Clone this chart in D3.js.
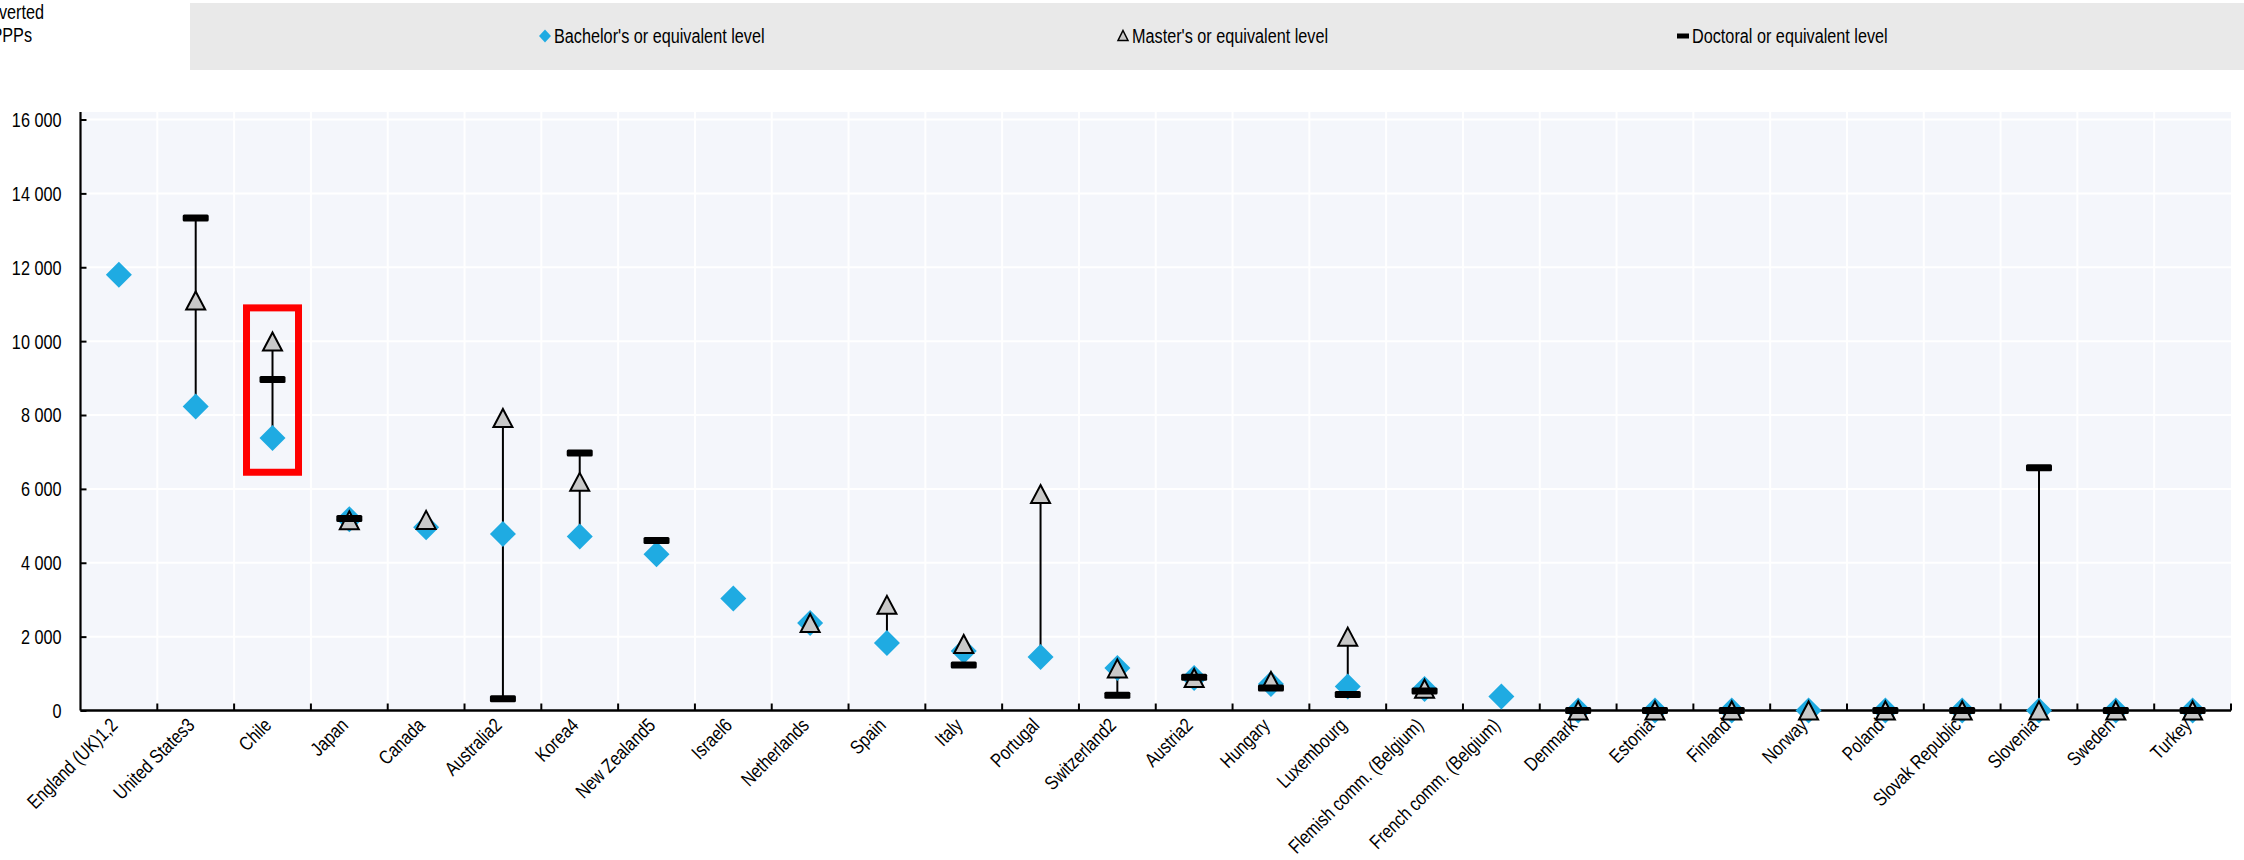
<!DOCTYPE html>
<html>
<head>
<meta charset="utf-8">
<script src="https://cdn.jsdelivr.net/npm/d3@7"></script>
<style>
  html, body { margin: 0; padding: 0; background: #fff; }
  svg { display: block; }
  text { font-family: 'Liberation Sans', Arial, sans-serif; }
</style>
</head>
<body>
<div id="chart"></div>
<script>
// data
const countries = [
  'England (UK)1,2', 'United States3', 'Chile', 'Japan', 'Canada', 'Australia2',
  'Korea4', 'New Zealand5', 'Israel6', 'Netherlands', 'Spain', 'Italy', 'Portugal',
  'Switzerland2', 'Austria2', 'Hungary', 'Luxembourg', 'Flemish comm. (Belgium)',
  'French comm. (Belgium)', 'Denmark', 'Estonia', 'Finland', 'Norway', 'Poland',
  'Slovak Republic', 'Slovenia', 'Sweden', 'Turkey'
]
const bachelor = [
  11800, 8230, 7380, 5180, 4960, 4780, 4710, 4230, 3030, 2370, 1830, 1610, 1450,
  1150, 880, 720, 650, 580, 380, 0, 0, 0, 0, 0, 0, 0, 0, 0
]
const master = [
  null, 11100, 9990, 5150, 5160, 7920, 6190, null, null, 2370, 2860, 1800, 5860,
  1140, 880, 800, 2000, 590, null, 0, 0, 0, 0, 0, 0, 0, 0, 0
]
const doctoral = [
  null, 13330, 8960, 5200, null, 320, 6970, 4600, null, null, null, 1230, null,
  410, 900, 610, 430, 530, null, 0, 0, 0, null, 0, 0, 6570, 0, 0
]
const yTicks = [0, 2000, 4000, 6000, 8000, 10000, 12000, 14000, 16000]
const legendLabels = [
  "Bachelor's or equivalent level",
  "Master's or equivalent level",
  'Doctoral or equivalent level'
]
const highlighted = 'Chile'

// format
const fmt = d3.formatLocale({ decimal: '.', thousands: ' ', grouping: [3], currency: ['', ''] }).format(',')

// size
const W = 2244
const H = 860
const plotLeft = 80.5
const plotRight = 2231
const plotTop = 112
const plotBottom = 710.5
const fs = '19.8px'
const narrow = 0.82 // the source uses a condensed face

const blue = '#1fabe2'
const grey = '#c8c8c8'

// scale
const x = d3.scaleBand().domain(countries).range([plotLeft, plotRight]).padding(0)
const y = d3.scaleLinear().domain([0, 16000]).range([plotBottom, plotBottom - 591])
const cx = c => x(c) + x.bandwidth() / 2

const svg = d3.select('#chart').append('svg').attr('width', W).attr('height', H)

// y-axis title (cut off on the left, as in the source)
const title = svg.append('text')
  .attr('font-size', fs).attr('fill', '#000').attr('text-anchor', 'end')
  .attr('transform', `translate(44, 0) scale(${narrow}, 1)`)
title.append('tspan').attr('x', 0).attr('y', 19).text('In equivalent USD converted')
title.append('tspan').attr('x', (32 - 44) / narrow).attr('y', 42).text('using PPPs')

// legend
svg.append('rect').attr('x', 190).attr('y', 3).attr('width', W - 190).attr('height', 67).attr('fill', '#e9e9e9')
const legendX = [545, 1123, 1683]
const legendY = 36
legendLabels.forEach((label, i) => {
  const g = svg.append('g').attr('transform', `translate(${legendX[i]}, ${legendY})`)
  if (i === 0) {
    g.append('path').attr('d', 'M0,-6.5L6,0L0,6.5L-6,0Z').attr('fill', blue)
  } else if (i === 1) {
    g.append('path').attr('d', 'M0,-5.5L5,4.5L-5,4.5Z').attr('fill', grey).attr('stroke', '#000').attr('stroke-width', 1.5)
  } else {
    g.append('rect').attr('x', -6).attr('y', -2.5).attr('width', 12).attr('height', 5).attr('fill', '#000')
  }
  g.append('text')
    .attr('transform', `translate(9, 7) scale(${narrow}, 1)`)
    .attr('font-size', fs).text(label)
})

// plot background
svg.append('rect')
  .attr('x', plotLeft).attr('y', plotTop)
  .attr('width', plotRight - plotLeft).attr('height', plotBottom - plotTop)
  .attr('fill', '#f4f6fb')

// grid
const bounds = countries.map(c => x(c)).concat([x.range()[1]])
svg.append('g').selectAll('line').data(yTicks.filter(t => t > 0)).join('line')
  .attr('x1', plotLeft).attr('x2', plotRight)
  .attr('y1', d => y(d)).attr('y2', d => y(d))
  .attr('stroke', '#fff').attr('stroke-width', 2)
svg.append('g').selectAll('line').data(bounds.slice(1, -1)).join('line')
  .attr('x1', d => d).attr('x2', d => d)
  .attr('y1', plotTop).attr('y2', plotBottom)
  .attr('stroke', '#fff').attr('stroke-width', 2)

// y-axis
const yAxis = svg.append('g')
  .attr('transform', `translate(${plotLeft}, 0)`)
  .call(d3.axisLeft(y).tickValues(yTicks).tickFormat(fmt).tickSize(-6).tickPadding(0))
yAxis.select('.domain').attr('d', `M0,${plotTop}V${plotBottom}`).attr('stroke', '#000').attr('stroke-width', 2.2)
yAxis.selectAll('.tick line').attr('stroke', '#000').attr('stroke-width', 2)
yAxis.selectAll('.tick text')
  .attr('font-size', fs).attr('fill', '#000').attr('font-family', null)
  .attr('x', 0).attr('dy', '0.35em')
  .attr('transform', `translate(-19, 0) scale(${narrow}, 1)`)

// x-axis
const xAxis = svg.append('g')
  .attr('transform', `translate(0, ${plotBottom})`)
  .call(d3.axisBottom(x).tickSize(0).tickPadding(0))
xAxis.select('.domain').attr('d', `M${plotLeft},0H${plotRight}`).attr('stroke', '#000').attr('stroke-width', 2.5)
xAxis.selectAll('.tick text')
  .attr('font-size', '19.5px').attr('fill', '#000').attr('font-family', null)
  .attr('text-anchor', 'end').attr('x', 0).attr('y', 0).attr('dy', 0)
  .attr('transform', `translate(0, 16) rotate(-45) scale(${narrow}, 1)`)
xAxis.append('g').selectAll('line').data(bounds.slice(1)).join('line')
  .attr('x1', d => d).attr('x2', d => d).attr('y1', 0).attr('y2', -7)
  .attr('stroke', '#000').attr('stroke-width', 2)

// rows
const rows = countries.map((c, i) => ({
  country: c,
  vals: [bachelor[i], master[i], doctoral[i]].filter(v => v != null)
}))

const marks = svg.append('g')

// connecting lines
marks.selectAll('line.range').data(rows.filter(r => r.vals.length > 1)).join('line')
  .attr('class', 'range')
  .attr('x1', d => cx(d.country)).attr('x2', d => cx(d.country))
  .attr('y1', d => y(d3.min(d.vals))).attr('y2', d => y(d3.max(d.vals)))
  .attr('stroke', '#000').attr('stroke-width', 2)

// bachelor diamonds
marks.selectAll('path.bachelor').data(countries.filter((c, i) => bachelor[i] != null)).join('path')
  .attr('class', 'bachelor')
  .attr('d', 'M0,-13L13,0L0,13L-13,0Z')
  .attr('transform', c => `translate(${cx(c)}, ${y(bachelor[countries.indexOf(c)])})`)
  .attr('fill', blue)

// master triangles
marks.selectAll('path.master').data(countries.filter((c, i) => master[i] != null)).join('path')
  .attr('class', 'master')
  .attr('d', 'M0,-9L9.5,9L-9.5,9Z')
  .attr('transform', c => `translate(${cx(c)}, ${y(master[countries.indexOf(c)])})`)
  .attr('fill', grey).attr('stroke', '#000').attr('stroke-width', 2)

// doctoral bars
marks.selectAll('rect.doctoral').data(countries.filter((c, i) => doctoral[i] != null)).join('rect')
  .attr('class', 'doctoral')
  .attr('x', c => cx(c) - 13)
  .attr('y', c => y(doctoral[countries.indexOf(c)]) - 3.5)
  .attr('width', 26).attr('height', 7).attr('rx', 1.5)
  .attr('fill', '#000')

// highlight box
svg.append('rect')
  .attr('x', cx(highlighted) - 26)
  .attr('y', y(10900))
  .attr('width', 52)
  .attr('height', y(6450) - y(10900))
  .attr('fill', 'none').attr('stroke', '#ff0000').attr('stroke-width', 7)
</script>
</body>
</html>
